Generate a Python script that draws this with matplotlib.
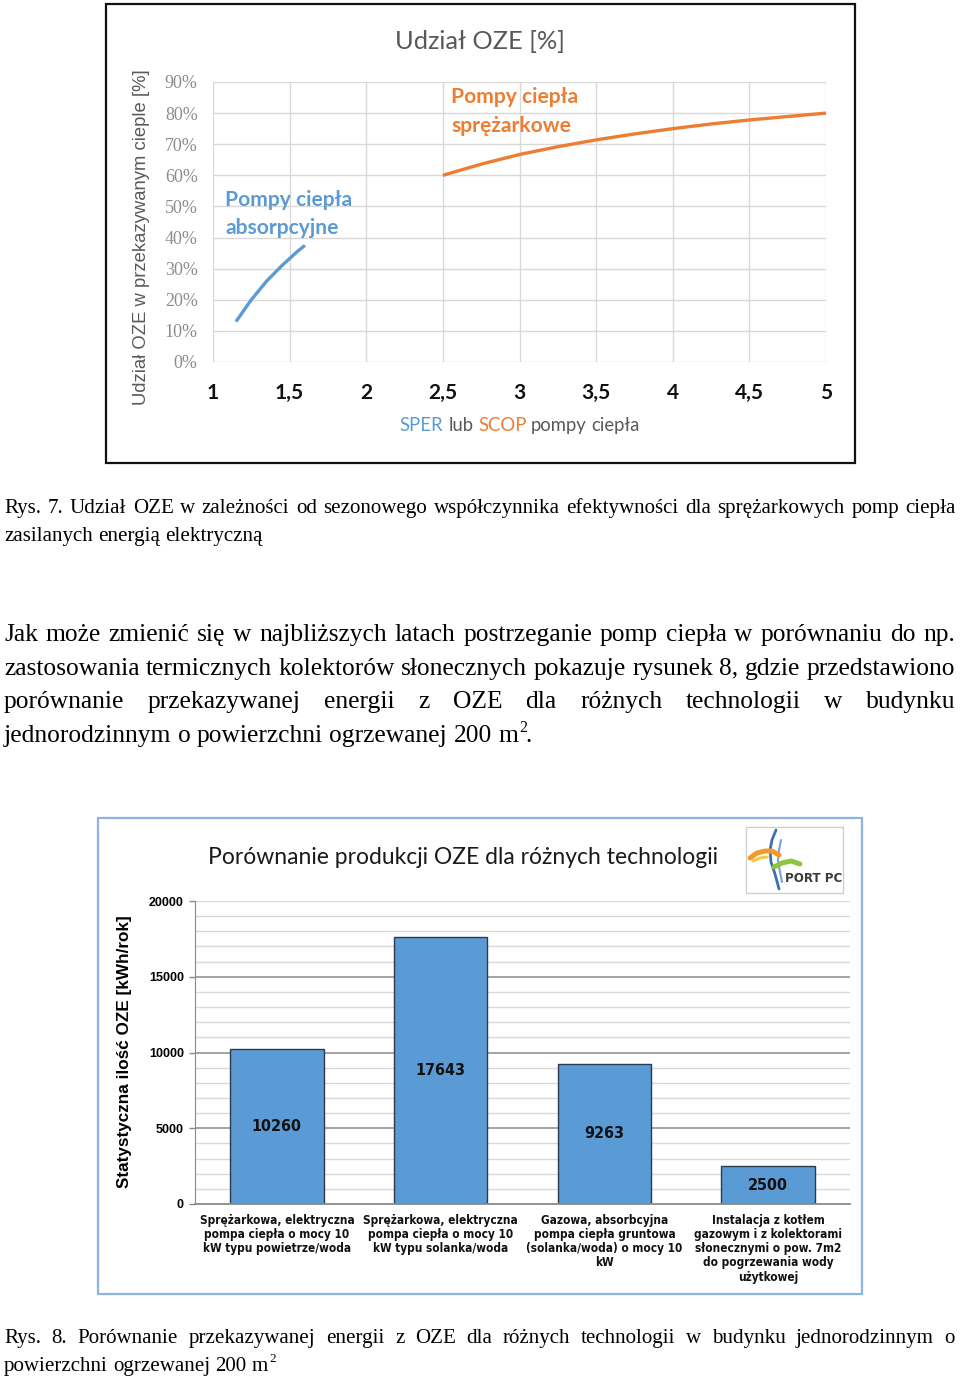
import matplotlib
matplotlib.use('Agg')
import matplotlib.pyplot as plt
from matplotlib import font_manager
from matplotlib.font_manager import FontProperties
from matplotlib.patches import Rectangle
from matplotlib.lines import Line2D
import matplotlib.patheffects as pe

W, H = 960, 1379

# ---------------- data: chart 1 (Udział OZE) ----------------
sper_absorption = [1.15, 1.25, 1.35, 1.45, 1.55, 1.60]
oze_absorption = [0.13, 0.20, 0.26, 0.31, 0.355, 0.375]
scop_compressor = [2.5, 2.75, 3.0, 3.25, 3.5, 3.75, 4.0, 4.25, 4.5, 4.75, 5.0]
oze_compressor = [0.600, 0.636, 0.667, 0.692, 0.714, 0.733, 0.750, 0.765, 0.778, 0.789, 0.800]
x_ticks1 = [1, 1.5, 2, 2.5, 3, 3.5, 4, 4.5, 5]
x_ticklabels1 = ['1', '1,5', '2', '2,5', '3', '3,5', '4', '4,5', '5']
y_ticks1 = [0, 0.1, 0.2, 0.3, 0.4, 0.5, 0.6, 0.7, 0.8, 0.9]
y_ticklabels1 = ['0%', '10%', '20%', '30%', '40%', '50%', '60%', '70%', '80%', '90%']

# ---------------- data: chart 2 (Porównanie produkcji OZE) ----------------
technologies = [
    "Sprężarkowa, elektryczna\npompa ciepła o mocy 10\nkW typu powietrze/woda",
    "Sprężarkowa, elektryczna\npompa ciepła o mocy 10\nkW typu solanka/woda",
    "Gazowa, absorbcyjna\npompa ciepła gruntowa\n(solanka/woda) o mocy 10\nkW",
    "Instalacja z kotłem\ngazowym i z kolektorami\nsłonecznymi o pow. 7m2\ndo pogrzewania wody\nużytkowej",
]
oze_kwh = [10260, 17643, 9263, 2500]
y_ticks2 = [0, 5000, 10000, 15000, 20000]

# ---------------- texts ----------------
caption7_l1 = "Rys. 7. Udział OZE w zależności od sezonowego współczynnika efektywności dla sprężarkowych pomp ciepła"
caption7_l2 = "zasilanych energią elektryczną"
para_lines = [
    "Jak może zmienić się w najbliższych latach postrzeganie pomp ciepła w porównaniu do np.",
    "zastosowania termicznych kolektorów słonecznych pokazuje rysunek 8, gdzie przedstawiono",
    "porównanie przekazywanej energii z OZE dla różnych technologii w budynku",
]
para_last = "jednorodzinnym o powierzchni ogrzewanej 200 m"
caption8_l1 = "Rys. 8. Porównanie przekazywanej energii z OZE dla różnych technologii w budynku jednorodzinnym o"
caption8_l2 = "powierzchni ogrzewanej 200 m"

BLUE = '#5B9BD5'
ORANGE = '#ED7D31'
GRAY = '#595959'

SERIF = 'Liberation Serif'
CAL = 'Lato'


def _wnum(w):
    if isinstance(w, (int, float)):
        return w
    return font_manager.weight_dict.get(str(w).lower(), 400)


_narrow = [f for f in font_manager.fontManager.ttflist
           if (('Narrow' in f.name) or ('Condensed' in f.name) or ('condensed' in str(f.stretch)))
           and f.style == 'normal' and _wnum(f.weight) >= 400]
_narrow.sort(key=lambda f: (0 if _wnum(f.weight) >= 600 else 1, abs(_wnum(f.weight) - 700)))
NARROW_PATH = _narrow[0].fname if _narrow else None
NARROW_IS_BOLD = bool(_narrow) and _wnum(_narrow[0].weight) >= 600


def narrow_fp(size):
    if NARROW_PATH:
        return FontProperties(fname=NARROW_PATH, size=size)
    return FontProperties(family='Liberation Sans', weight='bold', size=size)


def narrow_fx(color='#111111', w=0.7):
    if NARROW_PATH and not NARROW_IS_BOLD:
        return [pe.withStroke(linewidth=w, foreground=color)]
    return []


fig = plt.figure(figsize=(W / 100, H / 100), dpi=100)
renderer = fig.canvas.get_renderer()


def fx(x):
    return x / W


def fy(y):
    return 1 - y / H


def twidth(s, **kw):
    t = fig.text(0, 0, s, **kw)
    w = t.get_window_extent(renderer).width
    t.remove()
    return w


def fit(s, target, **kw):
    return 10 * target / twidth(s, fontsize=10, **kw)


def fit_fp(s, target, make):
    return 10 * target / twidth(s, fontproperties=make(10))


def space_w(**kw):
    return twidth('a a', **kw) - twidth('aa', **kw)


def justify(line, x0, x1, yb, **kw):
    words = line.split()
    ws = [twidth(w, **kw) for w in words]
    gap = (x1 - x0 - sum(ws)) / (len(words) - 1)
    x = x0
    for w, wd in zip(words, ws):
        fig.text(fx(x), fy(yb), w, ha='left', va='baseline', **kw)
        x += wd + gap


def left_line(line, x0, yb, **kw):
    words = line.split()
    sp = space_w(**kw)
    x = x0
    for w in words:
        fig.text(fx(x), fy(yb), w, ha='left', va='baseline', **kw)
        x += twidth(w, **kw) + sp
    return x - sp


def runs_centered(runs, xc, yb, **kw):
    sp = space_w(**kw)
    ws = [twidth(r, **kw) for r, c in runs]
    total = sum(ws) + sp * (len(runs) - 1)
    x = xc - total / 2
    for (r, c), wd in zip(runs, ws):
        fig.text(fx(x), fy(yb), r, ha='left', va='baseline', color=c, **kw)
        x += wd + sp


# ====================== CHART 1 ======================
fig.add_artist(Rectangle((fx(106), fy(463)), (855 - 106) / W, (463 - 4) / H,
                         transform=fig.transFigure, fill=False, edgecolor='#111111', lw=1.6))

ax1 = fig.add_axes([fx(213), fy(362), (826 - 213) / W, (362 - 82) / H])
ax1.set_xlim(1, 5)
ax1.set_ylim(0, 0.9)
for s in ax1.spines.values():
    s.set_visible(False)
ax1.set_xticks(x_ticks1)
ax1.set_xticklabels(x_ticklabels1, fontfamily=CAL, fontweight='bold', fontsize=15, color='#111111')
ax1.set_yticks(y_ticks1)
ax1.set_yticklabels(y_ticklabels1, fontfamily=SERIF, fontsize=13, color='#8c8c8c')
ax1.tick_params(axis='x', length=0, pad=15)
ax1.tick_params(axis='y', length=0, pad=11)
ax1.grid(True, color='#d9d9d9', lw=1)
ax1.set_axisbelow(True)
ax1.plot(sper_absorption, oze_absorption, color=BLUE, lw=2.4, solid_capstyle='butt')
ax1.plot(scop_compressor, oze_compressor, color=ORANGE, lw=2.4, solid_capstyle='butt')

fig.text(fx(480), fy(49), "Udział OZE [%]", ha='center', va='baseline',
         fontfamily=CAL, fontsize=fit("Udział OZE [%]", 169, fontfamily=CAL), color=GRAY)
ylab1 = "Udział OZE w przekazywanym cieple [%]"
fig.text(fx(141), fy(237), ylab1, ha='center', va='center',
         rotation=90, fontfamily='Liberation Sans',
         fontsize=fit(ylab1, 337, fontfamily='Liberation Sans'), color=GRAY)

lab_fs = fit("Pompy ciepła", 127, fontfamily=CAL, fontweight='bold')
fig.text(fx(225), fy(206), "Pompy ciepła", ha='left', va='baseline', fontfamily=CAL, fontweight='bold',
         fontsize=lab_fs, color=BLUE)
fig.text(fx(225), fy(234), "absorpcyjne", ha='left', va='baseline', fontfamily=CAL, fontweight='bold',
         fontsize=lab_fs, color=BLUE)
fig.text(fx(451), fy(103), "Pompy ciepła", ha='left', va='baseline', fontfamily=CAL, fontweight='bold',
         fontsize=lab_fs, color=ORANGE)
fig.text(fx(451), fy(132), "sprężarkowe", ha='left', va='baseline', fontfamily=CAL, fontweight='bold',
         fontsize=lab_fs, color=ORANGE)

xl_fs = fit("SPER lub SCOP pompy ciepła", 240, fontfamily=CAL)
runs_centered([("SPER", BLUE), ("lub", GRAY), ("SCOP", ORANGE), ("pompy", GRAY), ("ciepła", GRAY)],
              520, 431, fontfamily=CAL, fontsize=xl_fs)

# ====================== TEXT BLOCK ======================
cap_fs = fit(caption7_l2, 258, fontfamily=SERIF)
justify(caption7_l1, 4, 956, 513, fontfamily=SERIF, fontsize=cap_fs)
left_line(caption7_l2, 4, 541, fontfamily=SERIF, fontsize=cap_fs)

par_fs = fit(para_last, 513, fontfamily=SERIF)
for i, ln in enumerate(para_lines):
    justify(ln, 4, 955, 641 + 33.7 * i, fontfamily=SERIF, fontsize=par_fs)
xe = left_line(para_last, 4, 742, fontfamily=SERIF, fontsize=par_fs)
fig.text(fx(xe + 1), fy(742 - 10), "2", ha='left', va='baseline', fontfamily=SERIF, fontsize=par_fs * 0.62)
fig.text(fx(xe + 7), fy(742), ".", ha='left', va='baseline', fontfamily=SERIF, fontsize=par_fs)

cap8_fs = fit(caption8_l2, 264, fontfamily=SERIF)
justify(caption8_l1, 4, 955, 1343, fontfamily=SERIF, fontsize=cap8_fs)
xe = left_line(caption8_l2, 4, 1371, fontfamily=SERIF, fontsize=cap8_fs)
fig.text(fx(xe + 1), fy(1371 - 9), "2", ha='left', va='baseline', fontfamily=SERIF, fontsize=cap8_fs * 0.62)

# ====================== CHART 2 ======================
fig.add_artist(Rectangle((fx(98), fy(1294)), (862 - 98) / W, (1294 - 818) / H,
                         transform=fig.transFigure, fill=False, edgecolor='#8db3e2', lw=1.6))

ax2 = fig.add_axes([fx(195), fy(1204), (850 - 195) / W, (1204 - 901) / H])
ax2.set_xlim(-0.5, 3.5)
ax2.set_ylim(0, 20000)
for v in range(1000, 20001, 1000):
    major = (v % 5000 == 0) and v < 20000
    ax2.axhline(v, color='#8a8a8a' if major else '#d9d9d9', lw=1.1 if major else 1.0, zorder=0)
for k in ('top', 'right'):
    ax2.spines[k].set_visible(False)
ax2.spines['left'].set_color('#8a8a8a')
ax2.spines['bottom'].set_color('#8a8a8a')
ax2.spines['bottom'].set_linewidth(1.3)
xs = list(range(len(oze_kwh)))
ax2.bar(xs, oze_kwh, width=0.57, color=BLUE, edgecolor='#2b3a4f', lw=1.0, zorder=2)
val_fs = fit_fp("17643", 50, narrow_fp)
for x, v in zip(xs, oze_kwh):
    ax2.text(x, v / 2, str(v), ha='center', va='center', fontproperties=narrow_fp(val_fs),
             color='#111111', zorder=3, path_effects=narrow_fx(w=1.0))
ax2.set_yticks(y_ticks2)
ax2.set_yticklabels([str(v) for v in y_ticks2], fontfamily='Liberation Sans', fontweight='bold', fontsize=9)
ax2.tick_params(axis='y', length=4, width=1, color='#8a8a8a', pad=4)
ax2.set_xticks(xs)
cat_fs = fit_fp("(solanka/woda) o mocy 10", 156, narrow_fp)
ax2.set_xticklabels(technologies, fontproperties=narrow_fp(cat_fs), linespacing=1.12, color='#111111')
for lab in ax2.get_xticklabels():
    lab.set_path_effects(narrow_fx(w=0.6))
ax2.tick_params(axis='x', length=0, pad=7)

ylab2 = "Statystyczna ilość OZE [kWh/rok]"
fig.text(fx(124), fy(1052), ylab2, ha='center', va='center', rotation=90,
         fontfamily='Liberation Sans', fontweight='bold',
         fontsize=fit(ylab2, 271, fontfamily='Liberation Sans', fontweight='bold'))
t2 = "Porównanie produkcji OZE dla różnych technologii"
fig.text(fx(463), fy(864), t2, ha='center', va='baseline', fontfamily=CAL,
         fontsize=fit(t2, 509, fontfamily=CAL), color='#1a1a1a')

# logo
fig.add_artist(Rectangle((fx(746), fy(893)), (843 - 746) / W, (893 - 827) / H,
                         transform=fig.transFigure, fill=True, facecolor='white', edgecolor='#cfcfcf', lw=1))


def swoosh(pts, color, lw):
    xs_ = [fx(p[0]) for p in pts]
    ys_ = [fy(p[1]) for p in pts]
    fig.add_artist(Line2D(xs_, ys_, transform=fig.transFigure, color=color, lw=lw,
                          solid_capstyle='round', solid_joinstyle='round'))


swoosh([(776, 830), (772, 840), (770, 850), (771, 862), (775, 874), (779, 889)], '#3d6fb6', 2.0)
swoosh([(781, 840), (779, 850), (778, 861), (780, 872), (782, 882)], '#7aa0d8', 1.5)
swoosh([(750, 858), (757, 853), (765, 851), (772, 851), (779, 855)], '#f39a2c', 3.6)
swoosh([(753, 861), (760, 858), (767, 857)], '#f7c948', 2.2)
swoosh([(774, 867), (782, 863), (791, 861), (800, 864)], '#8cc63f', 3.6)
pfs = fit_fp("PORT PC", 57, narrow_fp)
fig.text(fx(785), fy(882), "PORT PC", ha='left', va='baseline', fontproperties=narrow_fp(pfs),
         color='#3a3a3a', path_effects=narrow_fx(color='#3a3a3a', w=0.5))

fig.savefig('out.png', dpi=100, facecolor='white')
